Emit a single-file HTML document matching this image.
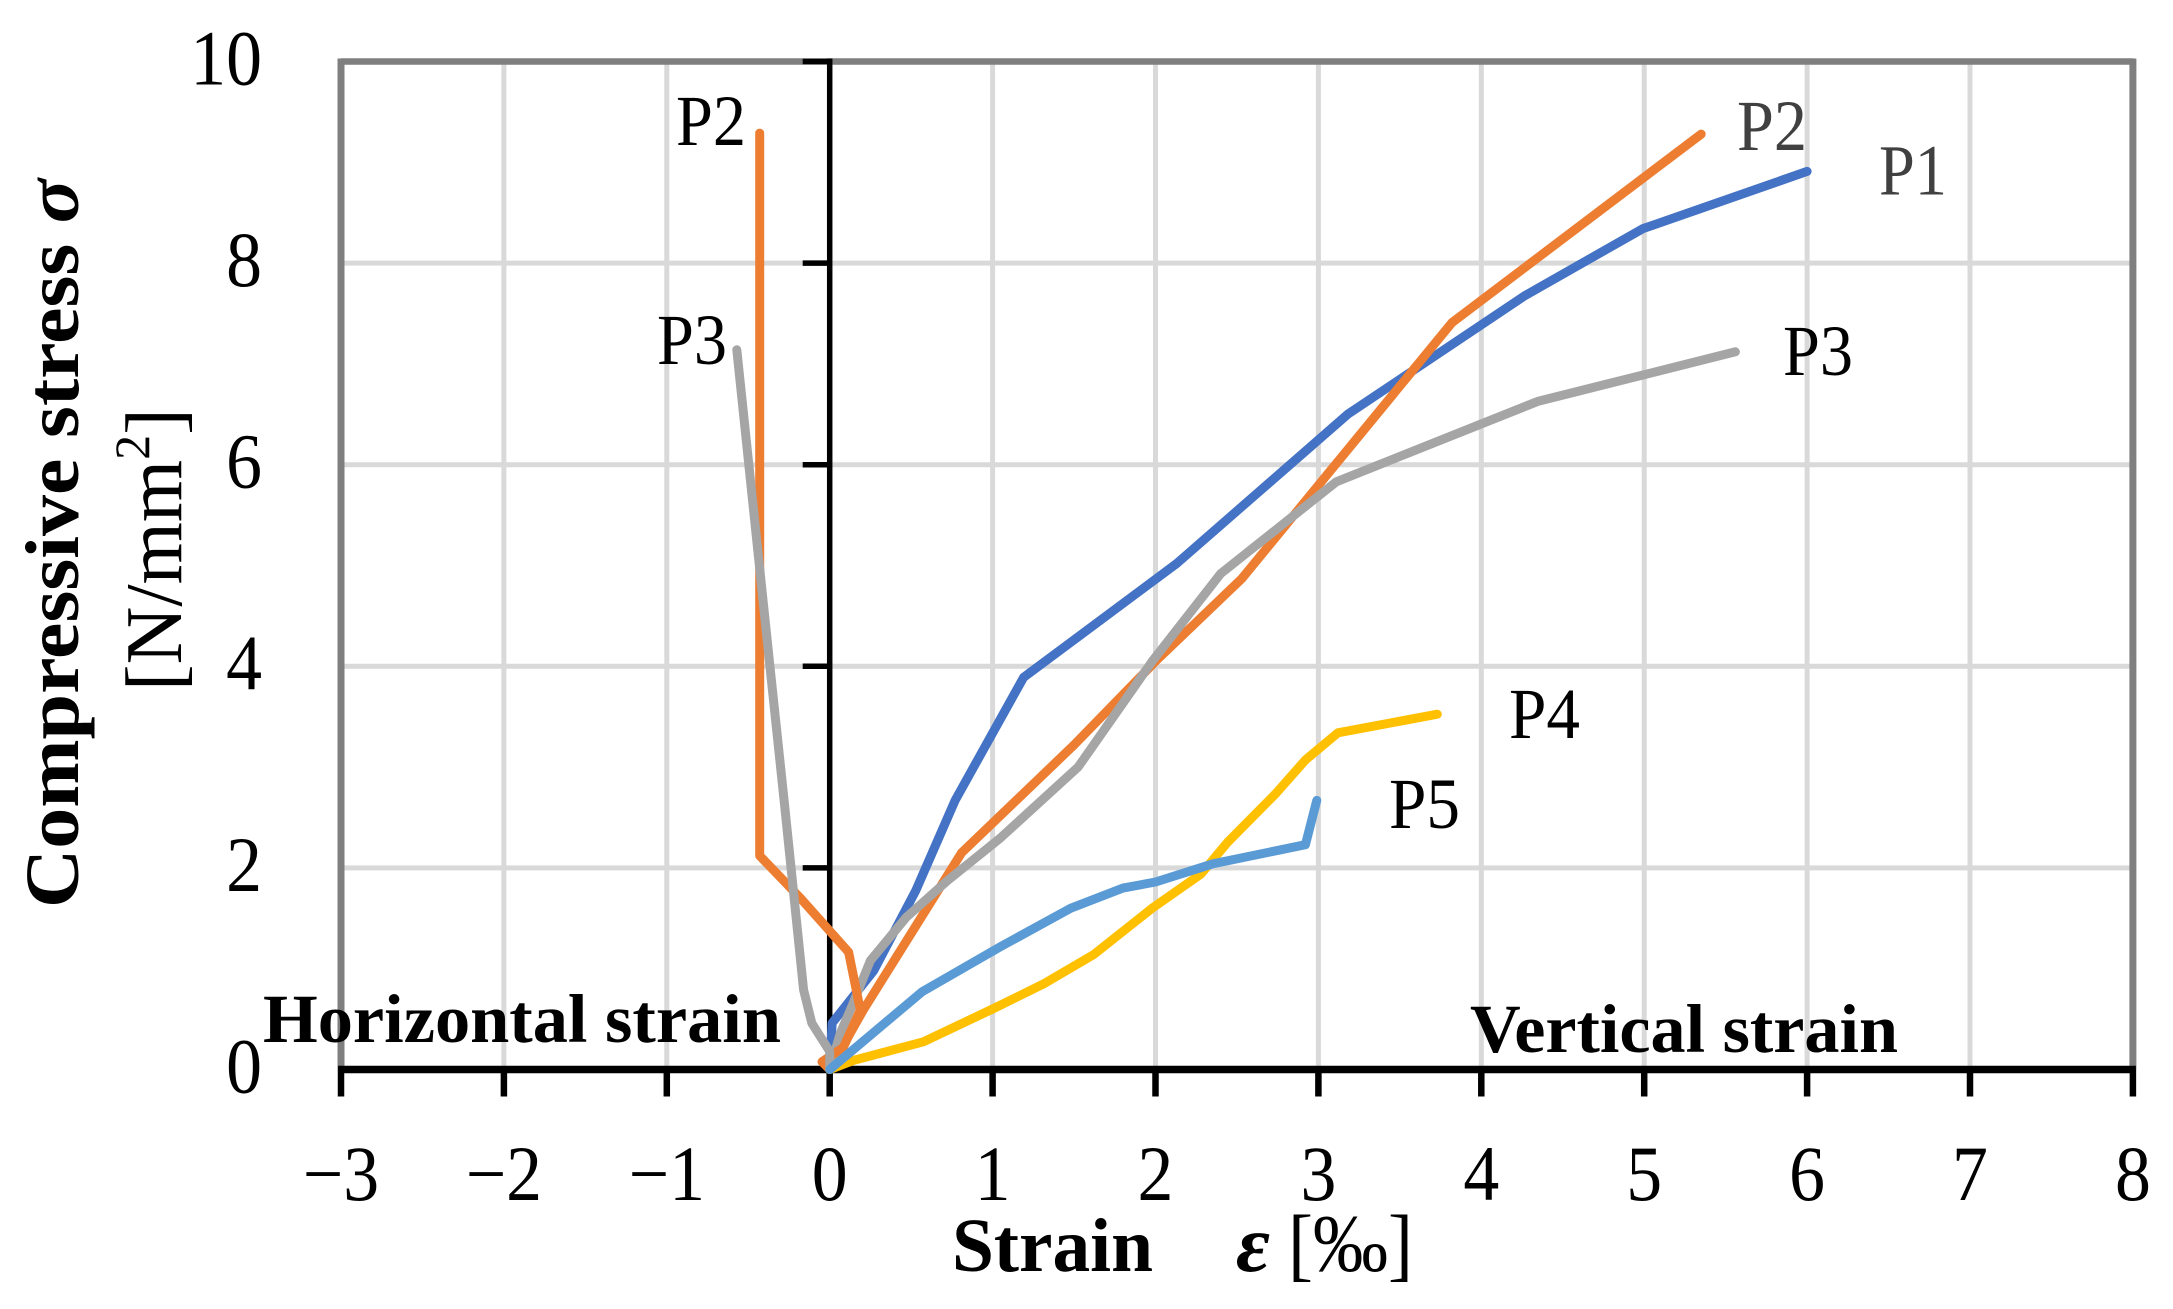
<!DOCTYPE html>
<html lang="en">
<head>
<meta charset="utf-8">
<title>Compressive stress vs strain</title>
<style>
  html, body { margin: 0; padding: 0; background: #fff; }
  svg { display: block; }
  text { font-family: "Liberation Serif", serif; fill: #000; }
</style>
</head>
<body>
<svg id="chart" xmlns="http://www.w3.org/2000/svg" width="2173" height="1309" viewBox="0 0 2173 1309">
  <rect x="0" y="0" width="2173" height="1309" fill="#ffffff"/>
  <g id="grid"></g>
  <g id="frame"></g>
  <g id="axes"></g>
  <g id="series"></g>
  <g id="ticklabels"></g>

  <text x="676" y="145" font-size="72" textLength="70" lengthAdjust="spacingAndGlyphs">P2</text>
  <text x="657" y="364" font-size="72" textLength="70" lengthAdjust="spacingAndGlyphs">P3</text>
  <text x="1737" y="150" font-size="72" textLength="70" lengthAdjust="spacingAndGlyphs" style="fill:#404040">P2</text>
  <text x="1879" y="194.5" font-size="72" textLength="68" lengthAdjust="spacingAndGlyphs" style="fill:#404040">P1</text>
  <text x="1783" y="375" font-size="72" textLength="70" lengthAdjust="spacingAndGlyphs">P3</text>
  <text x="1509" y="738" font-size="72" textLength="71" lengthAdjust="spacingAndGlyphs">P4</text>
  <text x="1389" y="828" font-size="72" textLength="71" lengthAdjust="spacingAndGlyphs">P5</text>

  <text x="263" y="1042" font-size="69" font-weight="bold" textLength="518" lengthAdjust="spacingAndGlyphs">Horizontal strain</text>
  <text x="1470" y="1052" font-size="69" font-weight="bold" textLength="428" lengthAdjust="spacingAndGlyphs">Vertical strain</text>

  <text x="952" y="1271" font-size="76" font-weight="bold" textLength="201" lengthAdjust="spacingAndGlyphs">Strain</text>
  <text x="1236" y="1271" font-size="80" font-weight="bold" font-style="italic" textLength="34" lengthAdjust="spacingAndGlyphs">ε</text>
  <text x="1288" y="1271" font-size="82" textLength="125" lengthAdjust="spacingAndGlyphs">[‰]</text>

  <text transform="translate(78 908) rotate(-90)" font-size="76" font-weight="bold" textLength="729" lengthAdjust="spacingAndGlyphs">Compressive stress <tspan font-style="italic">σ</tspan></text>
  <text transform="translate(181 691) rotate(-90)" font-size="80">[N/mm<tspan font-size="50" dy="-32">2</tspan><tspan dy="32">]</tspan></text>
</svg>

<script>
var xTicks = [-3, -2, -1, 0, 1, 2, 3, 4, 5, 6, 7, 8];
var yTicks = [0, 2, 4, 6, 8, 10];
var xTickLabels = ['\u22123', '\u22122', '\u22121', '0', '1', '2', '3', '4', '5', '6', '7', '8'];
var yTickLabels = ['0', '2', '4', '6', '8', '10'];

var p1X = [0, 0.015, 0.27, 0.53, 0.77, 1.19, 2.13, 3.18, 4.27, 4.99, 6.0];
var p1Y = [0, 0.46, 0.98, 1.78, 2.67, 3.89, 5.02, 6.5, 7.68, 8.34, 8.91];

var p2VerticalX = [0, 0.206, 0.81, 1.5, 2.0, 2.53, 3.82, 5.35];
var p2VerticalY = [0, 0.59, 2.15, 3.22, 4.05, 4.87, 7.41, 9.28];

var p3VerticalX = [0, 0.065, 0.137, 0.25, 0.47, 0.72, 1.05, 1.525, 1.98, 2.4, 3.11, 4.35, 5.56];
var p3VerticalY = [0, 0.36, 0.63, 1.08, 1.51, 1.87, 2.3, 3.0, 4.05, 4.92, 5.83, 6.63, 7.12];

var p2HorizontalX = [-0.43, -0.43, -0.18, 0.116, 0.188, 0.084, -0.047, 0];
var p2HorizontalY = [9.29, 2.12, 1.7, 1.165, 0.59, 0.22, 0.077, 0];

var p3HorizontalX = [-0.57, -0.37, -0.28, -0.16, -0.11, 0, 0];
var p3HorizontalY = [7.14, 4.05, 2.67, 0.79, 0.46, 0.18, 0];

var p4X = [0, 0.146, 0.575, 1.0, 1.32, 1.62, 1.98, 2.28, 2.44, 2.74, 2.92, 3.12, 3.73];
var p4Y = [0, 0.09, 0.275, 0.6, 0.855, 1.14, 1.6, 1.94, 2.25, 2.74, 3.07, 3.34, 3.525];

var p5X = [0, 0.566, 1.045, 1.48, 1.8, 2.0, 2.35, 2.92, 2.99];
var p5Y = [0, 0.77, 1.215, 1.6, 1.8, 1.86, 2.04, 2.23, 2.67];

var seriesList = [
  { name: 'series-p1', xs: p1X, ys: p1Y, color: '#4472c4' },
  { name: 'series-p2-vertical', xs: p2VerticalX, ys: p2VerticalY, color: '#ed7d31' },
  { name: 'series-p3-vertical', xs: p3VerticalX, ys: p3VerticalY, color: '#a5a5a5' },
  { name: 'series-p2-horizontal', xs: p2HorizontalX, ys: p2HorizontalY, color: '#ed7d31' },
  { name: 'series-p3-horizontal', xs: p3HorizontalX, ys: p3HorizontalY, color: '#a5a5a5' },
  { name: 'series-p4', xs: p4X, ys: p4Y, color: '#ffc000' },
  { name: 'series-p5', xs: p5X, ys: p5Y, color: '#5b9bd5' }
];

var NS = 'http://www.w3.org/2000/svg';
var xZeroPx = 829.7, xUnitPx = 162.9;
var yZeroPx = 1069.5, yUnitPx = 100.8;
function xScale(v) { return xZeroPx + v * xUnitPx; }
function yScale(v) { return yZeroPx - v * yUnitPx; }

var xMin = xTicks[0], xMax = xTicks[xTicks.length - 1];
var yMin = yTicks[0], yMax = yTicks[yTicks.length - 1];
var tickFontSize = 78;
var tickGlyphSqueeze = 0.92;

function tickLabelWidth(str) {
  var w = 0;
  for (var i = 0; i < str.length; i++) {
    w += str.charAt(i) === '\u2212' ? 0.564 : 0.5;
  }
  return w * tickFontSize * tickGlyphSqueeze;
}

function line(parent, x1, y1, x2, y2, color, width) {
  var el = document.createElementNS(NS, 'line');
  el.setAttribute('x1', x1);
  el.setAttribute('y1', y1);
  el.setAttribute('x2', x2);
  el.setAttribute('y2', y2);
  el.setAttribute('stroke', color);
  el.setAttribute('stroke-width', width);
  parent.appendChild(el);
  return el;
}

var gridG = document.getElementById('grid');
var frameG = document.getElementById('frame');
var axesG = document.getElementById('axes');
var seriesG = document.getElementById('series');
var labelsG = document.getElementById('ticklabels');

xTicks.forEach(function (t, i) {
  if (t !== 0 && t !== xMin && t !== xMax) {
    var g = line(gridG, xScale(t), yScale(yMax), xScale(t), yScale(yMin), '#d9d9d9', 5);
    
    
  }
  var tick = line(axesG, xScale(t), yScale(0), xScale(t), yScale(0) + 27, '#000000', 6.5);
  
  
  var lab = document.createElementNS(NS, 'text');
  lab.setAttribute('x', xScale(t));
  lab.setAttribute('y', 1200);
  lab.setAttribute('font-size', tickFontSize);
  lab.setAttribute('text-anchor', 'middle');
  lab.setAttribute('textLength', tickLabelWidth(xTickLabels[i]).toFixed(1));
  lab.setAttribute('lengthAdjust', 'spacingAndGlyphs');
  lab.textContent = xTickLabels[i];
  
  
  labelsG.appendChild(lab);
});

yTicks.forEach(function (t, i) {
  if (t !== yMin && t !== yMax) {
    var g = line(gridG, xScale(xMin), yScale(t), xScale(xMax), yScale(t), '#d9d9d9', 5);
    
    
  }
  if (t !== 0) {
    var tick = line(axesG, xScale(0) - 27, yScale(t), xScale(0), yScale(t), '#000000', 5.5);
    
    
  }
  var lab = document.createElementNS(NS, 'text');
  lab.setAttribute('x', 262);
  lab.setAttribute('y', yScale(t) + 23);
  lab.setAttribute('font-size', tickFontSize);
  lab.setAttribute('text-anchor', 'end');
  lab.setAttribute('textLength', tickLabelWidth(yTickLabels[i]).toFixed(1));
  lab.setAttribute('lengthAdjust', 'spacingAndGlyphs');
  lab.textContent = yTickLabels[i];
  
  
  labelsG.appendChild(lab);
});

var fLeft = line(frameG, xScale(xMin), yScale(yMax) - 3, xScale(xMin), yScale(yMin), '#7f7f7f', 7);


var fRight = line(frameG, xScale(xMax), yScale(yMax) - 3, xScale(xMax), yScale(yMin), '#7f7f7f', 7);


var fTop = line(frameG, xScale(xMin), yScale(yMax), xScale(xMax), yScale(yMax), '#7f7f7f', 6.5);



var yAxisLine = line(axesG, xScale(0), yScale(yMax) - 3, xScale(0), yScale(yMin), '#000000', 5.5);


var xAxisLine = line(axesG, xScale(xMin) - 3, yScale(0), xScale(xMax) + 3, yScale(0), '#000000', 7.5);



seriesList.forEach(function (s) {
  var pts = s.xs.map(function (x, i) { return xScale(x).toFixed(1) + ',' + yScale(s.ys[i]).toFixed(1); });
  var el = document.createElementNS(NS, 'polyline');
  el.setAttribute('points', pts.join(' '));
  el.setAttribute('fill', 'none');
  el.setAttribute('stroke', s.color);
  el.setAttribute('stroke-width', '9');
  el.setAttribute('stroke-linecap', 'round');
  el.setAttribute('stroke-linejoin', 'round');
  
  
  seriesG.appendChild(el);
});
</script>
</body>
</html>
